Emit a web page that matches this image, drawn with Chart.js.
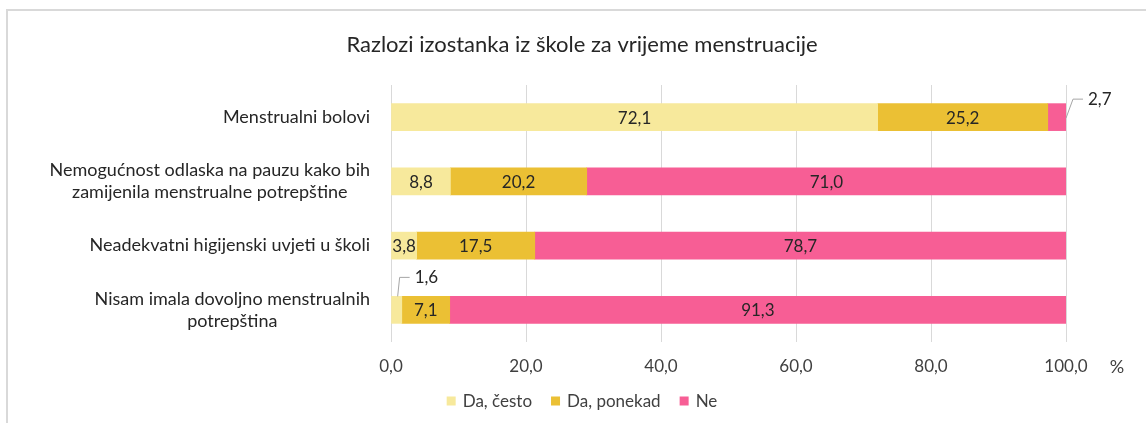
<!DOCTYPE html>
<html>
<head>
<meta charset="utf-8">
<script src="https://cdn.jsdelivr.net/npm/chart.js@4"></script>
<style>
  html, body { margin: 0; padding: 0; background: #fff; }
  #wrap { width: 1146px; height: 423px; }
</style>
</head>
<body>
<div id="wrap"><canvas id="myChart"></canvas></div>
<script>
// data
const categories = [
  ['Menstrualni bolovi'],
  ['Nemogućnost odlaska na pauzu kako bih', 'zamijenila menstrualne potrepštine'],
  ['Neadekvatni higijenski uvjeti u školi'],
  ['Nisam imala dovoljno menstrualnih', 'potrepština']
];
const seriesNames = ['Da, često', 'Da, ponekad', 'Ne'];
const daCesto = [72.1, 8.8, 3.8, 1.6];
const daPonekad = [25.2, 20.2, 17.5, 7.1];
const ne = [2.7, 71.0, 78.7, 91.3];
const xTicks = [0, 20, 40, 60, 80, 100];
const chartTitle = 'Razlozi izostanka iz škole za vrijeme menstruacije';
const axisUnit = '%';

const colors = ['#f7e99c', '#ebc034', '#f75e95'];
const FONT = 'Lato, "Open Sans", sans-serif';
const fmt = v => v.toFixed(1).replace('.', ',');

// extras: frame, title, category labels, value labels, legend
const drawExtras = {
  id: 'drawExtras',
  beforeDraw(chart) {
    const ctx = chart.ctx;
    ctx.save();
    ctx.fillStyle = '#fff';
    ctx.fillRect(0, 0, chart.width, chart.height);
    ctx.strokeStyle = '#d9d9d9';
    ctx.lineWidth = 2;
    ctx.beginPath();
    ctx.moveTo(7, chart.height);
    ctx.lineTo(7, 10);
    ctx.lineTo(chart.width, 10);
    ctx.stroke();
    ctx.restore();
  },
  afterDraw(chart) {
    const ctx = chart.ctx, area = chart.chartArea, yScale = chart.scales.y;
    const midX = chart.width / 2 + 9;
    ctx.save();
    ctx.fillStyle = '#262626';
    ctx.textBaseline = 'middle';

    // title
    ctx.textAlign = 'center';
    ctx.font = '22px ' + FONT;
    ctx.fillText(chartTitle, midX, 45);

    // category labels (lines centred on each other, block ends at axis)
    ctx.font = '18px ' + FONT;
    categories.forEach((lines, i) => {
      const y = yScale.getPixelForValue(i);
      const w = Math.max(...lines.map(l => ctx.measureText(l).width));
      const cx = area.left - 21 - w / 2;
      lines.forEach((l, j) => ctx.fillText(l, cx, y + (j - (lines.length - 1) / 2) * 22));
    });

    // value labels
    ctx.font = '17px ' + FONT;
    chart.data.datasets.forEach((ds, di) => {
      const meta = chart.getDatasetMeta(di);
      meta.data.forEach((bar, i) => {
        const v = ds.data[i];
        const cx = (bar.x + bar.base) / 2;
        if (v >= 3) {
          ctx.textAlign = 'center';
          ctx.fillText(fmt(v), cx, bar.y + 1);
          return;
        }
        // small segment: callout with leader line
        let sx, sy, ex, ey;
        if (di === chart.data.datasets.length - 1) {
          sx = bar.x; sy = bar.y + 1; ex = sx + 7; ey = sy - 19;
        } else {
          sx = cx + 1; sy = bar.y - bar.height / 2; ex = sx + 2; ey = sy - 19;
        }
        ctx.strokeStyle = '#a6a6a6';
        ctx.lineWidth = 1;
        ctx.beginPath();
        ctx.moveTo(sx, sy);
        ctx.lineTo(ex, ey);
        ctx.lineTo(ex + 10, ey);
        ctx.stroke();
        ctx.textAlign = 'left';
        ctx.fillText(fmt(v), ex + 15, ey);
      });
    });

    // unit label
    ctx.textAlign = 'center';
    ctx.fillStyle = '#404040';
    ctx.font = '18px ' + FONT;
    ctx.fillText(axisUnit, 1117, 367);

    // legend
    ctx.font = '17px ' + FONT;
    const box = 9, gapText = 7, gapItem = 19;
    const widths = seriesNames.map(n => box + gapText + ctx.measureText(n).width);
    const total = widths.reduce((a, b) => a + b, 0) + gapItem * (seriesNames.length - 1);
    let x = midX - total / 2;
    const ly = 401;
    seriesNames.forEach((n, i) => {
      ctx.fillStyle = colors[i];
      ctx.fillRect(x, ly - box / 2, box, box);
      ctx.fillStyle = '#404040';
      ctx.textAlign = 'left';
      ctx.fillText(n, x + box + gapText, ly + 1);
      x += widths[i] + gapItem;
    });
    ctx.restore();
  }
};

const data = {
  labels: categories.map((c, i) => i),
  datasets: [daCesto, daPonekad, ne].map((vals, i) => ({
    label: seriesNames[i],
    data: vals,
    backgroundColor: colors[i],
    borderWidth: 0,
    barThickness: 27
  }))
};

const config = {
  type: 'bar',
  data,
  options: {
    indexAxis: 'y',
    responsive: true,
    maintainAspectRatio: false,
    animation: false,
    devicePixelRatio: 1,
    layout: { padding: { left: 391, right: 80, top: 85, bottom: 41 } },
    plugins: {
      legend: { display: false },
      title: { display: false },
      tooltip: { enabled: false }
    },
    scales: {
      x: {
        stacked: true,
        min: 0,
        max: 100,
        afterBuildTicks: scale => { scale.ticks = xTicks.map(v => ({ value: v })); },
        afterFit: scale => { scale.height = 40; },
        ticks: {
          callback: v => fmt(v),
          font: { family: FONT, size: 17 },
          color: '#404040',
          padding: 14,
          maxRotation: 0
        },
        grid: { color: '#d9d9d9', drawTicks: false },
        border: { display: false }
      },
      y: {
        stacked: true,
        display: false
      }
    }
  },
  plugins: [drawExtras]
};

const myChart = new Chart(document.getElementById('myChart'), config);
</script>
</body>
</html>
